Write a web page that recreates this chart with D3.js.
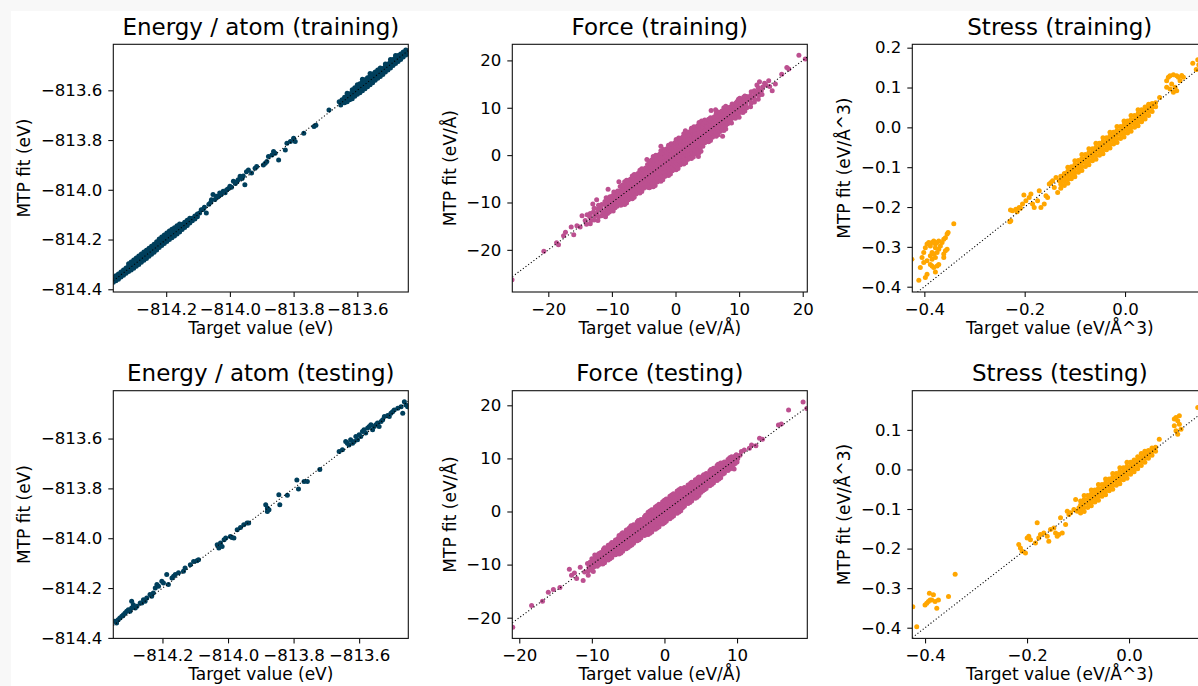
<!DOCTYPE html>
<html>
<head>
<meta charset="utf-8">
<script src="https://cdn.jsdelivr.net/npm/d3@7"></script>
<style>
  html, body { margin: 0; padding: 0; background: #f8f8f8; }
  svg { display: block; }
  text { font-family: "DejaVu Sans", sans-serif; }
</style>
</head>
<body>
<svg id="chart" width="1198" height="686"></svg>
<script>
// ---------------- DATA: [target value, MTP fit] ----------------
const energyTrain = [
  [-814.366,-814.372],[-814.366,-814.362],[-814.366,-814.352],
  [-814.358,-814.366],[-814.358,-814.356],[-814.358,-814.346],
  [-814.350,-814.360],[-814.350,-814.349],[-814.350,-814.339],
  [-814.342,-814.351],[-814.342,-814.341],[-814.342,-814.331],
  [-814.334,-814.344],[-814.334,-814.333],[-814.334,-814.323],
  [-814.326,-814.336],[-814.326,-814.325],[-814.326,-814.314],
  [-814.318,-814.329],[-814.318,-814.318],[-814.318,-814.307],[-814.318,-814.297],
  [-814.310,-814.323],[-814.310,-814.312],[-814.310,-814.300],[-814.310,-814.290],
  [-814.302,-814.315],[-814.302,-814.304],[-814.302,-814.292],[-814.302,-814.282],
  [-814.294,-814.307],[-814.294,-814.296],[-814.294,-814.285],[-814.294,-814.274],
  [-814.286,-814.300],[-814.286,-814.289],[-814.286,-814.277],[-814.286,-814.266],
  [-814.278,-814.291],[-814.278,-814.281],[-814.278,-814.269],[-814.278,-814.258],
  [-814.270,-814.283],[-814.270,-814.273],[-814.270,-814.262],[-814.270,-814.250],
  [-814.262,-814.276],[-814.262,-814.265],[-814.262,-814.254],[-814.262,-814.243],
  [-814.254,-814.267],[-814.254,-814.257],[-814.254,-814.246],[-814.254,-814.235],
  [-814.246,-814.259],[-814.246,-814.249],[-814.246,-814.238],[-814.246,-814.227],
  [-814.238,-814.251],[-814.238,-814.241],[-814.238,-814.230],[-814.238,-814.219],
  [-814.230,-814.242],[-814.230,-814.232],[-814.230,-814.221],[-814.230,-814.209],
  [-814.222,-814.232],[-814.222,-814.221],[-814.222,-814.210],[-814.222,-814.198],
  [-814.214,-814.224],[-814.214,-814.212],[-814.214,-814.201],[-814.214,-814.190],
  [-814.206,-814.216],[-814.206,-814.204],[-814.206,-814.193],[-814.206,-814.182],
  [-814.198,-814.208],[-814.198,-814.196],[-814.198,-814.185],[-814.198,-814.174],
  [-814.190,-814.200],[-814.190,-814.188],[-814.190,-814.177],[-814.190,-814.166],
  [-814.182,-814.193],[-814.182,-814.182],[-814.182,-814.170],[-814.182,-814.159],
  [-814.174,-814.186],[-814.174,-814.175],[-814.174,-814.164],[-814.174,-814.153],
  [-814.166,-814.178],[-814.166,-814.167],[-814.166,-814.156],[-814.166,-814.145],
  [-814.158,-814.170],[-814.158,-814.159],[-814.158,-814.148],[-814.158,-814.138],
  [-814.150,-814.160],[-814.150,-814.150],[-814.150,-814.139],
  [-814.142,-814.152],[-814.142,-814.142],[-814.142,-814.131],
  [-814.134,-814.144],[-814.134,-814.133],[-814.134,-814.122],
  [-814.126,-814.134],[-814.126,-814.124],[-814.126,-814.114],
  [-814.118,-814.125],[-814.118,-814.114],[-814.110,-814.117],[-814.110,-814.105],
  [-814.102,-814.108],[-814.102,-814.097],
  [-814.095,-814.093],[-814.090,-814.080],[-814.084,-814.079],[-814.080,-814.070],[-814.074,-814.093],
  [-814.066,-814.058],[-814.060,-814.050],[-814.058,-814.040],[-814.053,-814.019],[-814.047,-814.039],
  [-814.042,-814.026],[-814.037,-814.028],[-814.032,-814.013],[-814.028,-814.020],[-814.021,-814.006],
  [-814.015,-814.012],[-814.010,-814.000],[-814.005,-813.996],[-814.000,-813.986],[-813.995,-813.990],
  [-813.989,-813.966],[-813.983,-813.975],[-813.978,-813.968],[-813.974,-813.960],[-813.968,-813.946],
  [-813.962,-813.955],[-813.958,-813.945],[-813.953,-813.980],[-813.948,-813.927],[-813.942,-813.920],
  [-813.932,-813.933],[-813.921,-813.913],[-813.916,-813.906],[-813.895,-813.900],[-813.889,-813.893],
  [-813.884,-813.886],[-813.879,-813.866],[-813.868,-813.860],[-813.863,-813.846],[-813.858,-813.853],
  [-813.847,-813.880],[-813.826,-813.840],[-813.821,-813.813],[-813.810,-813.806],[-813.795,-813.806],
  [-813.800,-813.793],[-813.768,-813.773],[-813.736,-813.746],[-813.730,-813.740],[-813.689,-813.679],
  [-813.657,-813.646],[-813.652,-813.659],
  [-813.648,-813.650],[-813.648,-813.638],
  [-813.640,-813.650],[-813.640,-813.638],[-813.640,-813.628],
  [-813.632,-813.646],[-813.632,-813.634],[-813.632,-813.622],[-813.632,-813.612],
  [-813.624,-813.638],[-813.624,-813.626],[-813.624,-813.614],
  [-813.616,-813.634],[-813.616,-813.622],[-813.616,-813.610],[-813.616,-813.598],
  [-813.608,-813.624],[-813.608,-813.612],[-813.608,-813.600],[-813.608,-813.590],
  [-813.600,-813.616],[-813.600,-813.604],[-813.600,-813.592],[-813.600,-813.578],
  [-813.592,-813.610],[-813.592,-813.598],[-813.592,-813.586],[-813.592,-813.574],
  [-813.584,-813.602],[-813.584,-813.590],[-813.584,-813.578],[-813.584,-813.566],[-813.584,-813.556],
  [-813.576,-813.594],[-813.576,-813.582],[-813.576,-813.570],[-813.576,-813.558],
  [-813.568,-813.586],[-813.568,-813.574],[-813.568,-813.562],[-813.568,-813.550],
  [-813.560,-813.578],[-813.560,-813.566],[-813.560,-813.554],[-813.560,-813.542],[-813.560,-813.532],
  [-813.552,-813.570],[-813.552,-813.558],[-813.552,-813.546],[-813.552,-813.534],
  [-813.544,-813.560],[-813.544,-813.548],[-813.544,-813.536],[-813.544,-813.526],
  [-813.536,-813.552],[-813.536,-813.540],[-813.536,-813.528],[-813.536,-813.518],
  [-813.528,-813.544],[-813.528,-813.532],[-813.528,-813.520],[-813.528,-813.510],
  [-813.520,-813.536],[-813.520,-813.524],[-813.520,-813.512],
  [-813.512,-813.526],[-813.512,-813.514],[-813.512,-813.502],[-813.512,-813.494],
  [-813.504,-813.518],[-813.504,-813.506],[-813.504,-813.494],
  [-813.496,-813.510],[-813.496,-813.498],[-813.496,-813.486],[-813.496,-813.476],
  [-813.488,-813.500],[-813.488,-813.488],[-813.488,-813.476],
  [-813.480,-813.492],[-813.480,-813.480],[-813.480,-813.468],[-813.480,-813.460],
  [-813.472,-813.484],[-813.472,-813.472],[-813.472,-813.460],
  [-813.464,-813.476],[-813.464,-813.465],[-813.464,-813.454],
  [-813.456,-813.466],[-813.456,-813.455],[-813.456,-813.446],
  [-813.448,-813.458],[-813.448,-813.448],[-813.448,-813.438],
  [-813.440,-813.452],[-813.440,-813.441]
];

const energyTest = [
  [-814.345,-814.333],[-814.340,-814.340],[-814.335,-814.327],[-814.330,-814.320],[-814.324,-814.313],
  [-814.319,-814.307],[-814.314,-814.300],[-814.309,-814.293],[-814.304,-814.287],[-814.299,-814.293],
  [-814.294,-814.280],[-814.294,-814.253],[-814.289,-814.267],[-814.283,-814.280],[-814.278,-814.273],
  [-814.268,-814.260],[-814.263,-814.260],[-814.258,-814.247],[-814.253,-814.253],[-814.248,-814.240],
  [-814.238,-814.226],[-814.233,-814.233],[-814.228,-814.220],[-814.222,-814.200],[-814.217,-814.186],
  [-814.212,-814.193],[-814.202,-814.173],[-814.197,-814.180],[-814.187,-814.146],[-814.182,-814.186],
  [-814.171,-814.160],[-814.166,-814.153],[-814.161,-814.146],[-814.151,-814.139],[-814.136,-814.133],
  [-814.131,-814.119],[-814.115,-814.106],[-814.105,-814.093],[-814.095,-814.090],[-814.090,-814.086],
  [-814.033,-814.026],[-814.028,-814.039],[-814.023,-814.019],[-814.018,-814.033],[-814.012,-814.006],
  [-814.007,-813.999],[-813.993,-813.993],[-813.988,-813.997],[-813.982,-813.999],[-813.972,-813.966],
  [-813.962,-813.957],[-813.952,-813.946],[-813.942,-813.939],[-813.937,-813.939],[-813.885,-813.866],
  [-813.880,-813.879],[-813.880,-813.893],[-813.875,-813.886],[-813.845,-813.826],[-813.842,-813.866],
  [-813.819,-813.828],[-813.790,-813.766],[-813.785,-813.802],[-813.768,-813.772],[-813.758,-813.772],
  [-813.720,-813.724],[-813.661,-813.652],[-813.651,-813.645],[-813.641,-813.612],[-813.636,-813.619],
  [-813.631,-813.626],[-813.626,-813.605],[-813.620,-813.619],[-813.615,-813.612],[-813.610,-813.592],
  [-813.605,-813.605],[-813.600,-813.585],[-813.595,-813.592],[-813.590,-813.572],[-813.585,-813.565],
  [-813.580,-813.578],[-813.574,-813.558],[-813.569,-813.552],[-813.564,-813.545],[-813.559,-813.565],
  [-813.554,-813.552],[-813.549,-813.545],[-813.544,-813.538],[-813.539,-813.552],[-813.533,-813.532],
  [-813.528,-813.525],[-813.523,-813.512],[-813.513,-813.508],[-813.508,-813.512],[-813.503,-813.498],
  [-813.498,-813.492],[-813.493,-813.485],[-813.482,-813.478],[-813.472,-813.472],[-813.467,-813.498],
  [-813.462,-813.452],[-813.457,-813.465],[-813.452,-813.472]
];

const forceTrain = [
  [-25.7,-26.3],[-20.7,-20.3],[-18.7,-18.5],[-18.4,-18.9],[-17.6,-17.0],[-17.3,-16.3],[-16.4,-15.2],
  [-16.0,-16.8],[-15.5,-14.9],[-15.0,-15.2],[-14.7,-12.8],[-14.2,-13.8],[-14.0,-14.6],[-13.9,-12.6],
  [-13.0,-10.3],[-12.4,-9.4],[-10.6,-7.2],[-8.9,-5.6],[-6.7,-8.9],[-4.5,-0.9],[-2.3,1.9],[1.55,5.15],
  [3.6,-0.3],[5.6,9.4],[6.3,9.6],[7.4,4.0],[9.9,11.8],[12.8,14.8],[13.2,15.5],[14.0,15.2],[14.2,14.8],
  [14.8,14.5],[14.65,15.7],[15.2,13.6],[15.7,15.0],[16.7,17.1],[17.5,18.5],[17.8,18.2],[19.4,21.1],[20.4,20.3],
  [-13.4,-14.5],[-13.3,-13.8],[-13.5,-13.0],[-13.4,-12.3],
  [-12.8,-13.7],[-12.7,-12.8],[-12.9,-12.0],[-12.8,-11.2],
  [-12.2,-13.8],[-12.1,-13.0],[-12.3,-12.2],[-12.2,-11.4],[-12.1,-10.6],
  [-11.6,-12.8],[-11.5,-12.0],[-11.7,-11.2],[-11.6,-10.4],
  [-11.0,-13.0],[-11.1,-12.2],[-10.9,-11.4],[-11.0,-10.6],[-11.1,-9.8],[-10.9,-9.0],
  [-10.7,-12.3],[-10.7,-11.5],[-10.7,-10.7],[-10.7,-9.9],[-10.7,-9.1],
  [-10.4,-12.0],[-10.3,-11.2],[-10.5,-10.4],[-10.4,-9.6],[-10.3,-8.8],
  [-10.1,-11.3],[-10.1,-10.5],[-10.1,-9.7],[-10.1,-8.9],
  [-9.8,-11.8],[-9.9,-11.0],[-9.7,-10.2],[-9.8,-9.4],[-9.9,-8.6],[-9.7,-7.8],
  [-9.5,-11.1],[-9.5,-10.3],[-9.5,-9.5],[-9.5,-8.7],[-9.5,-7.9],
  [-9.2,-10.8],[-9.1,-10.0],[-9.3,-9.2],[-9.2,-8.4],[-9.1,-7.6],
  [-8.9,-10.1],[-8.9,-9.3],[-8.9,-8.5],[-8.9,-7.7],
  [-8.6,-10.6],[-8.5,-9.8],[-8.7,-9.0],[-8.6,-8.2],[-8.5,-7.4],[-8.7,-6.6],
  [-8.3,-10.3],[-8.3,-9.5],[-8.3,-8.7],[-8.3,-7.9],[-8.3,-7.1],[-8.3,-6.3],
  [-8.0,-10.4],[-8.1,-9.6],[-7.9,-8.8],[-8.0,-8.0],[-8.1,-7.2],[-7.9,-6.4],[-8.0,-5.6],
  [-7.7,-10.1],[-7.7,-9.3],[-7.7,-8.5],[-7.7,-7.7],[-7.7,-6.9],[-7.7,-6.1],[-7.7,-5.3],
  [-7.4,-9.4],[-7.3,-8.6],[-7.5,-7.8],[-7.4,-7.0],[-7.3,-6.2],[-7.5,-5.4],
  [-7.1,-9.1],[-7.1,-8.3],[-7.1,-7.5],[-7.1,-6.7],[-7.1,-5.9],[-7.1,-5.1],
  [-6.8,-9.2],[-6.9,-8.4],[-6.7,-7.6],[-6.8,-6.8],[-6.9,-6.0],[-6.7,-5.2],[-6.8,-4.4],
  [-6.5,-8.9],[-6.5,-8.1],[-6.5,-7.3],[-6.5,-6.5],[-6.5,-5.7],[-6.5,-4.9],[-6.5,-4.1],
  [-6.2,-8.2],[-6.1,-7.4],[-6.3,-6.6],[-6.2,-5.8],[-6.1,-5.0],[-6.3,-4.2],
  [-5.9,-7.9],[-5.9,-7.1],[-5.9,-6.3],[-5.9,-5.5],[-5.9,-4.7],[-5.9,-3.9],
  [-5.6,-8.0],[-5.7,-7.2],[-5.5,-6.4],[-5.6,-5.6],[-5.7,-4.8],[-5.5,-4.0],[-5.6,-3.2],
  [-5.3,-7.7],[-5.3,-6.9],[-5.3,-6.1],[-5.3,-5.3],[-5.3,-4.5],[-5.3,-3.7],[-5.3,-2.9],
  [-5.0,-7.0],[-4.9,-6.2],[-5.1,-5.4],[-5.0,-4.6],[-4.9,-3.8],[-5.1,-3.0],
  [-4.7,-6.7],[-4.7,-5.9],[-4.7,-5.1],[-4.7,-4.3],[-4.7,-3.5],[-4.7,-2.7],
  [-4.4,-6.8],[-4.5,-6.0],[-4.3,-5.2],[-4.4,-4.4],[-4.5,-3.6],[-4.3,-2.8],[-4.4,-2.0],
  [-4.1,-6.9],[-4.1,-6.1],[-4.1,-5.3],[-4.1,-4.5],[-4.1,-3.7],[-4.1,-2.9],[-4.1,-2.1],[-4.1,-1.3],
  [-3.8,-6.6],[-3.7,-5.8],[-3.9,-5.0],[-3.8,-4.2],[-3.7,-3.4],[-3.9,-2.6],[-3.8,-1.8],[-3.7,-1.0],
  [-3.5,-6.7],[-3.5,-5.9],[-3.5,-5.1],[-3.5,-4.3],[-3.5,-3.5],[-3.5,-2.7],[-3.5,-1.9],[-3.5,-1.1],[-3.5,-0.3],
  [-3.2,-6.4],[-3.3,-5.6],[-3.1,-4.8],[-3.2,-4.0],[-3.3,-3.2],[-3.1,-2.4],[-3.2,-1.6],[-3.3,-0.8],[-3.1,0.0],
  [-2.9,-5.7],[-2.9,-4.9],[-2.9,-4.1],[-2.9,-3.3],[-2.9,-2.5],[-2.9,-1.7],[-2.9,-0.9],[-2.9,-0.1],
  [-2.6,-5.4],[-2.5,-4.6],[-2.7,-3.8],[-2.6,-3.0],[-2.5,-2.2],[-2.7,-1.4],[-2.6,-0.6],[-2.5,0.2],
  [-2.3,-5.5],[-2.3,-4.7],[-2.3,-3.9],[-2.3,-3.1],[-2.3,-2.3],[-2.3,-1.5],[-2.3,-0.7],[-2.3,0.1],[-2.3,0.9],
  [-2.0,-5.2],[-2.1,-4.4],[-1.9,-3.6],[-2.0,-2.8],[-2.1,-2.0],[-1.9,-1.2],[-2.0,-0.4],[-2.1,0.4],[-1.9,1.2],
  [-1.7,-4.5],[-1.7,-3.7],[-1.7,-2.9],[-1.7,-2.1],[-1.7,-1.3],[-1.7,-0.5],[-1.7,0.3],[-1.7,1.1],
  [-1.4,-4.2],[-1.3,-3.4],[-1.5,-2.6],[-1.4,-1.8],[-1.3,-1.0],[-1.5,-0.2],[-1.4,0.6],[-1.3,1.4],
  [-1.1,-4.3],[-1.1,-3.5],[-1.1,-2.7],[-1.1,-1.9],[-1.1,-1.1],[-1.1,-0.3],[-1.1,0.5],[-1.1,1.3],[-1.1,2.1],
  [-0.8,-4.0],[-0.9,-3.2],[-0.7,-2.4],[-0.8,-1.6],[-0.9,-0.8],[-0.7,0.0],[-0.8,0.8],[-0.9,1.6],[-0.7,2.4],
  [-0.5,-3.3],[-0.5,-2.5],[-0.5,-1.7],[-0.5,-0.9],[-0.5,-0.1],[-0.5,0.7],[-0.5,1.5],[-0.5,2.3],
  [-0.2,-3.0],[-0.1,-2.2],[-0.3,-1.4],[-0.2,-0.6],[-0.1,0.2],[-0.3,1.0],[-0.2,1.8],[-0.1,2.6],
  [0.1,-3.1],[0.1,-2.3],[0.1,-1.5],[0.1,-0.7],[0.1,0.1],[0.1,0.9],[0.1,1.7],[0.1,2.5],[0.1,3.3],
  [0.4,-2.8],[0.3,-2.0],[0.5,-1.2],[0.4,-0.4],[0.3,0.4],[0.5,1.2],[0.4,2.0],[0.3,2.8],[0.5,3.6],
  [0.7,-2.1],[0.7,-1.3],[0.7,-0.5],[0.7,0.3],[0.7,1.1],[0.7,1.9],[0.7,2.7],[0.7,3.5],
  [1.0,-1.8],[1.1,-1.0],[0.9,-0.2],[1.0,0.6],[1.1,1.4],[0.9,2.2],[1.0,3.0],[1.1,3.8],
  [1.3,-1.9],[1.3,-1.1],[1.3,-0.3],[1.3,0.5],[1.3,1.3],[1.3,2.1],[1.3,2.9],[1.3,3.7],[1.3,4.5],
  [1.6,-1.6],[1.5,-0.8],[1.7,0.0],[1.6,0.8],[1.5,1.6],[1.7,2.4],[1.6,3.2],[1.5,4.0],[1.7,4.8],
  [1.9,-0.9],[1.9,-0.1],[1.9,0.7],[1.9,1.5],[1.9,2.3],[1.9,3.1],[1.9,3.9],[1.9,4.7],
  [2.2,-0.6],[2.3,0.2],[2.1,1.0],[2.2,1.8],[2.3,2.6],[2.1,3.4],[2.2,4.2],[2.3,5.0],
  [2.5,-0.7],[2.5,0.1],[2.5,0.9],[2.5,1.7],[2.5,2.5],[2.5,3.3],[2.5,4.1],[2.5,4.9],[2.5,5.7],
  [2.8,-0.4],[2.7,0.4],[2.9,1.2],[2.8,2.0],[2.7,2.8],[2.9,3.6],[2.8,4.4],[2.7,5.2],[2.9,6.0],
  [3.1,0.3],[3.1,1.1],[3.1,1.9],[3.1,2.7],[3.1,3.5],[3.1,4.3],[3.1,5.1],[3.1,5.9],
  [3.4,0.6],[3.5,1.4],[3.3,2.2],[3.4,3.0],[3.5,3.8],[3.3,4.6],[3.4,5.4],[3.5,6.2],
  [3.7,0.5],[3.7,1.3],[3.7,2.1],[3.7,2.9],[3.7,3.7],[3.7,4.5],[3.7,5.3],[3.7,6.1],[3.7,6.9],
  [4.0,0.8],[3.9,1.6],[4.1,2.4],[4.0,3.2],[3.9,4.0],[4.1,4.8],[4.0,5.6],[3.9,6.4],[4.1,7.2],
  [4.3,1.9],[4.3,2.7],[4.3,3.5],[4.3,4.3],[4.3,5.1],[4.3,5.9],[4.3,6.7],
  [4.6,2.6],[4.7,3.4],[4.5,4.2],[4.6,5.0],[4.7,5.8],[4.5,6.6],[4.6,7.4],
  [4.9,2.9],[4.9,3.7],[4.9,4.5],[4.9,5.3],[4.9,6.1],[4.9,6.9],
  [5.2,2.8],[5.1,3.6],[5.3,4.4],[5.2,5.2],[5.1,6.0],[5.3,6.8],[5.2,7.6],
  [5.5,3.1],[5.5,3.9],[5.5,4.7],[5.5,5.5],[5.5,6.3],[5.5,7.1],[5.5,7.9],
  [5.8,3.8],[5.9,4.6],[5.7,5.4],[5.8,6.2],[5.9,7.0],[5.7,7.8],
  [6.1,4.1],[6.1,4.9],[6.1,5.7],[6.1,6.5],[6.1,7.3],[6.1,8.1],
  [6.4,4.0],[6.3,4.8],[6.5,5.6],[6.4,6.4],[6.3,7.2],[6.5,8.0],[6.4,8.8],
  [6.7,4.3],[6.7,5.1],[6.7,5.9],[6.7,6.7],[6.7,7.5],[6.7,8.3],[6.7,9.1],
  [7.0,5.0],[7.1,5.8],[6.9,6.6],[7.0,7.4],[7.1,8.2],[6.9,9.0],
  [7.3,5.3],[7.3,6.1],[7.3,6.9],[7.3,7.7],[7.3,8.5],[7.3,9.3],
  [7.6,5.2],[7.5,6.0],[7.7,6.8],[7.6,7.6],[7.5,8.4],[7.7,9.2],[7.6,10.0],
  [7.9,5.5],[7.9,6.3],[7.9,7.1],[7.9,7.9],[7.9,8.7],[7.9,9.5],[7.9,10.3],
  [8.2,6.6],[8.3,7.4],[8.1,8.2],[8.3,9.0],[8.2,9.8],
  [8.5,6.9],[8.5,7.7],[8.5,8.5],[8.5,9.3],[8.5,10.1],
  [8.8,6.8],[8.7,7.6],[8.9,8.4],[8.8,9.2],[8.7,10.0],[8.9,10.8],
  [9.1,7.9],[9.1,8.7],[9.1,9.5],[9.1,10.3],
  [9.4,7.8],[9.5,8.6],[9.3,9.4],[9.4,10.2],[9.5,11.0],
  [9.7,8.1],[9.7,8.9],[9.7,9.7],[9.7,10.5],[9.7,11.3],
  [10.0,8.0],[9.9,8.8],[10.1,9.6],[10.0,10.4],[9.9,11.2],[10.1,12.0],
  [10.3,9.1],[10.3,9.9],[10.3,10.7],[10.3,11.5],
  [10.6,9.0],[10.7,9.8],[10.5,10.6],[10.6,11.4],[10.7,12.2],
  [10.9,9.3],[10.9,10.1],[10.9,10.9],[10.9,11.7],[10.9,12.5],
  [11.2,10.0],[11.1,10.8],[11.3,11.6],[11.2,12.4],
  [11.8,10.2],[11.9,11.0],[11.7,11.8],[11.8,12.6],[11.9,13.4],
  [12.4,11.2],[12.3,12.0],[12.5,12.8],[12.4,13.6],
  [13.0,11.8],[13.1,12.6],[12.9,13.4],[13.0,14.2],
  [13.6,12.8],[13.5,13.6],[13.7,14.4]
];

const forceTest = [
  [-20.9,-21.8],[-18.3,-17.7],[-16.8,-16.9],[-16.0,-15.2],[-15.3,-14.7],[-14.4,-14.3],[-13.1,-10.9],
  [-12.8,-12.0],[-12.4,-11.6],[-12.1,-12.6],[-11.6,-10.5],[-11.2,-13.0],[-11.0,-11.4],[-10.5,-12.0],
  [-9.8,-11.3],[-9.6,-8.2],[9.6,8.0],[10.4,10.6],[10.6,11.3],[11.0,11.6],[11.7,11.9],[12.0,12.5],
  [12.6,12.4],[13.1,13.8],[13.5,13.6],[15.7,16.3],[16.1,16.5],[17.1,19.1],[19.1,20.6],[19.6,19.4],
  [-10.5,-11.2],[-10.4,-10.5],[-10.6,-9.8],
  [-10.25,-10.95],[-10.25,-10.25],[-10.25,-9.55],
  [-10.0,-11.0],[-10.1,-10.3],[-9.9,-9.6],[-10.0,-8.9],
  [-9.75,-10.45],[-9.75,-9.75],[-9.75,-9.05],
  [-9.5,-10.2],[-9.4,-9.5],[-9.6,-8.8],
  [-9.25,-10.3],[-9.25,-9.6],[-9.25,-8.9],[-9.25,-8.2],
  [-9.0,-10.0],[-9.1,-9.3],[-8.9,-8.6],[-9.0,-7.9],
  [-8.75,-9.8],[-8.75,-9.1],[-8.75,-8.4],[-8.75,-7.7],
  [-8.5,-9.9],[-8.4,-9.2],[-8.6,-8.5],[-8.5,-7.8],[-8.4,-7.1],
  [-8.25,-9.65],[-8.25,-8.95],[-8.25,-8.25],[-8.25,-7.55],[-8.25,-6.85],
  [-8.0,-9.0],[-8.1,-8.3],[-7.9,-7.6],[-8.0,-6.9],
  [-7.75,-9.15],[-7.75,-8.45],[-7.75,-7.75],[-7.75,-7.05],[-7.75,-6.35],
  [-7.5,-8.9],[-7.4,-8.2],[-7.6,-7.5],[-7.5,-6.8],[-7.4,-6.1],
  [-7.25,-8.65],[-7.25,-7.95],[-7.25,-7.25],[-7.25,-6.55],[-7.25,-5.85],
  [-7.0,-8.0],[-7.1,-7.3],[-6.9,-6.6],[-7.0,-5.9],
  [-6.75,-8.15],[-6.75,-7.45],[-6.75,-6.75],[-6.75,-6.05],[-6.75,-5.35],
  [-6.5,-7.9],[-6.4,-7.2],[-6.6,-6.5],[-6.5,-5.8],[-6.4,-5.1],
  [-6.25,-8.0],[-6.25,-7.3],[-6.25,-6.6],[-6.25,-5.9],[-6.25,-5.2],[-6.25,-4.5],
  [-6.0,-7.8],[-6.1,-7.1],[-5.9,-6.4],[-6.0,-5.6],[-6.1,-4.9],[-5.9,-4.2],
  [-5.75,-7.5],[-5.75,-6.8],[-5.75,-6.1],[-5.75,-5.4],[-5.75,-4.7],[-5.75,-4.0],
  [-5.5,-6.9],[-5.4,-6.2],[-5.6,-5.5],[-5.5,-4.8],[-5.4,-4.1],
  [-5.25,-7.0],[-5.25,-6.3],[-5.25,-5.6],[-5.25,-4.9],[-5.25,-4.2],[-5.25,-3.5],
  [-5.0,-6.8],[-5.1,-6.1],[-4.9,-5.4],[-5.0,-4.6],[-5.1,-3.9],[-4.9,-3.2],
  [-4.75,-6.5],[-4.75,-5.8],[-4.75,-5.1],[-4.75,-4.4],[-4.75,-3.7],[-4.75,-3.0],
  [-4.5,-6.3],[-4.4,-5.6],[-4.6,-4.9],[-4.5,-4.1],[-4.4,-3.4],[-4.6,-2.7],
  [-4.25,-6.0],[-4.25,-5.3],[-4.25,-4.6],[-4.25,-3.9],[-4.25,-3.2],[-4.25,-2.5],
  [-4.0,-5.4],[-4.1,-4.7],[-3.9,-4.0],[-4.0,-3.3],[-4.1,-2.6],
  [-3.75,-5.5],[-3.75,-4.8],[-3.75,-4.1],[-3.75,-3.4],[-3.75,-2.7],[-3.75,-2.0],
  [-3.5,-5.3],[-3.4,-4.6],[-3.6,-3.9],[-3.5,-3.1],[-3.4,-2.4],[-3.6,-1.7],
  [-3.25,-5.0],[-3.25,-4.3],[-3.25,-3.6],[-3.25,-2.9],[-3.25,-2.2],[-3.25,-1.5],
  [-3.0,-4.4],[-3.1,-3.7],[-2.9,-3.0],[-3.0,-2.3],[-3.1,-1.6],
  [-2.75,-4.5],[-2.75,-3.8],[-2.75,-3.1],[-2.75,-2.4],[-2.75,-1.7],[-2.75,-1.0],
  [-2.5,-4.3],[-2.4,-3.6],[-2.6,-2.9],[-2.5,-2.1],[-2.4,-1.4],[-2.6,-0.7],
  [-2.25,-4.35],[-2.25,-3.65],[-2.25,-2.95],[-2.25,-2.25],[-2.25,-1.55],[-2.25,-0.85],[-2.25,-0.15],
  [-2.0,-4.1],[-2.1,-3.4],[-1.9,-2.7],[-2.0,-2.0],[-2.1,-1.3],[-1.9,-0.6],[-2.0,0.1],
  [-1.75,-3.85],[-1.75,-3.15],[-1.75,-2.45],[-1.75,-1.75],[-1.75,-1.05],[-1.75,-0.35],[-1.75,0.35],
  [-1.5,-3.3],[-1.4,-2.6],[-1.6,-1.9],[-1.5,-1.1],[-1.4,-0.4],[-1.6,0.3],
  [-1.25,-3.35],[-1.25,-2.65],[-1.25,-1.95],[-1.25,-1.25],[-1.25,-0.55],[-1.25,0.15],[-1.25,0.85],
  [-1.0,-3.1],[-1.1,-2.4],[-0.9,-1.7],[-1.0,-1.0],[-1.1,-0.3],[-0.9,0.4],[-1.0,1.1],
  [-0.75,-2.85],[-0.75,-2.15],[-0.75,-1.45],[-0.75,-0.75],[-0.75,-0.05],[-0.75,0.65],[-0.75,1.35],
  [-0.5,-2.3],[-0.4,-1.6],[-0.6,-0.9],[-0.5,-0.1],[-0.4,0.6],[-0.6,1.3],
  [-0.25,-2.35],[-0.25,-1.65],[-0.25,-0.95],[-0.25,-0.25],[-0.25,0.45],[-0.25,1.15],[-0.25,1.85],
  [0.0,-2.1],[0.1,-1.4],[-0.1,-0.7],[0.0,0.0],[0.1,0.7],[-0.1,1.4],[0.0,2.1],
  [0.25,-1.85],[0.25,-1.15],[0.25,-0.45],[0.25,0.25],[0.25,0.95],[0.25,1.65],[0.25,2.35],
  [0.5,-1.3],[0.4,-0.6],[0.6,0.1],[0.5,0.9],[0.4,1.6],[0.6,2.3],
  [0.75,-1.35],[0.75,-0.65],[0.75,0.05],[0.75,0.75],[0.75,1.45],[0.75,2.15],[0.75,2.85],
  [1.0,-1.1],[1.1,-0.4],[0.9,0.3],[1.0,1.0],[1.1,1.7],[0.9,2.4],[1.0,3.1],
  [1.25,-0.85],[1.25,-0.15],[1.25,0.55],[1.25,1.25],[1.25,1.95],[1.25,2.65],[1.25,3.35],
  [1.5,-0.3],[1.4,0.4],[1.6,1.1],[1.5,1.9],[1.4,2.6],[1.6,3.3],
  [1.75,-0.35],[1.75,0.35],[1.75,1.05],[1.75,1.75],[1.75,2.45],[1.75,3.15],[1.75,3.85],
  [2.0,-0.1],[2.1,0.6],[1.9,1.3],[2.0,2.0],[2.1,2.7],[1.9,3.4],[2.0,4.1],
  [2.25,0.15],[2.25,0.85],[2.25,1.55],[2.25,2.25],[2.25,2.95],[2.25,3.65],[2.25,4.35],
  [2.5,0.7],[2.4,1.4],[2.6,2.1],[2.5,2.9],[2.4,3.6],[2.6,4.3],
  [2.75,1.0],[2.75,1.7],[2.75,2.4],[2.75,3.1],[2.75,3.8],[2.75,4.5],
  [3.0,1.6],[3.1,2.3],[2.9,3.0],[3.0,3.7],[3.1,4.4],
  [3.25,1.5],[3.25,2.2],[3.25,2.9],[3.25,3.6],[3.25,4.3],[3.25,5.0],
  [3.5,1.7],[3.4,2.4],[3.6,3.1],[3.5,3.9],[3.4,4.6],[3.6,5.3],
  [3.75,2.0],[3.75,2.7],[3.75,3.4],[3.75,4.1],[3.75,4.8],[3.75,5.5],
  [4.0,2.6],[4.1,3.3],[3.9,4.0],[4.0,4.7],[4.1,5.4],
  [4.25,2.5],[4.25,3.2],[4.25,3.9],[4.25,4.6],[4.25,5.3],[4.25,6.0],
  [4.5,2.7],[4.4,3.4],[4.6,4.1],[4.5,4.9],[4.4,5.6],[4.6,6.3],
  [4.75,3.0],[4.75,3.7],[4.75,4.4],[4.75,5.1],[4.75,5.8],[4.75,6.5],
  [5.0,3.6],[5.1,4.3],[4.9,5.0],[5.0,5.7],[5.1,6.4],
  [5.25,3.85],[5.25,4.55],[5.25,5.25],[5.25,5.95],[5.25,6.65],
  [5.5,4.1],[5.4,4.8],[5.6,5.5],[5.5,6.2],[5.4,6.9],
  [5.75,4.35],[5.75,5.05],[5.75,5.75],[5.75,6.45],[5.75,7.15],
  [6.0,4.9],[6.1,5.6],[5.9,6.3],[6.0,7.0],
  [6.25,4.85],[6.25,5.55],[6.25,6.25],[6.25,6.95],[6.25,7.65],
  [6.5,5.1],[6.4,5.8],[6.6,6.5],[6.5,7.2],[6.4,7.9],
  [6.75,5.35],[6.75,6.05],[6.75,6.75],[6.75,7.45],[6.75,8.15],
  [7.0,5.9],[7.1,6.6],[6.9,7.3],[7.0,8.0],
  [7.25,5.85],[7.25,6.55],[7.25,7.25],[7.25,7.95],[7.25,8.65],
  [7.5,6.1],[7.4,6.8],[7.6,7.5],[7.5,8.2],[7.4,8.9],
  [7.75,6.35],[7.75,7.05],[7.75,7.75],[7.75,8.45],[7.75,9.15],
  [8.0,7.0],[8.1,7.7],[7.9,8.4],[8.0,9.1],
  [8.25,7.2],[8.25,7.9],[8.25,8.6],[8.25,9.3],
  [8.5,7.8],[8.4,8.5],[8.6,9.2],
  [8.75,7.7],[8.75,8.4],[8.75,9.1],[8.75,9.8],
  [9.0,8.0],[9.1,8.7],[8.9,9.4],[9.0,10.1],
  [9.25,8.2],[9.25,8.9],[9.25,9.6],[9.25,10.3],
  [9.5,8.8],[9.4,9.5],[9.6,10.2],
  [9.75,9.05],[9.75,9.75],[9.75,10.45],
  [10.0,9.3],[10.1,10.0],[9.9,10.7]
];

const stressTrain = [
  [-0.4246,-0.331],[-0.411,-0.384],[-0.408,-0.352],[-0.4046,-0.327],[-0.4012,-0.314],[-0.4012,-0.339],
  [-0.398,-0.302],[-0.398,-0.377],[-0.3946,-0.293],[-0.3946,-0.335],[-0.3946,-0.369],[-0.3913,-0.289],
  [-0.388,-0.298],[-0.388,-0.322],[-0.388,-0.344],[-0.3846,-0.289],[-0.3846,-0.314],[-0.3846,-0.331],
  [-0.3846,-0.348],[-0.3813,-0.285],[-0.3813,-0.318],[-0.3813,-0.352],[-0.378,-0.293],[-0.378,-0.302],
  [-0.378,-0.327],[-0.378,-0.363],[-0.3746,-0.289],[-0.3746,-0.314],[-0.3746,-0.348],[-0.3713,-0.285],
  [-0.3713,-0.306],[-0.3713,-0.344],[-0.368,-0.298],[-0.3646,-0.289],[-0.3613,-0.281],[-0.3613,-0.318],
  [-0.3613,-0.327],[-0.358,-0.277],[-0.358,-0.310],[-0.3546,-0.268],[-0.3546,-0.306],[-0.3526,-0.264],
  [-0.3413,-0.242],
  [-0.2297,-0.237],[-0.2277,-0.2347],[-0.2283,-0.2075],[-0.2243,-0.2095],[-0.2176,-0.2053],[-0.215,-0.212],
  [-0.211,-0.2011],[-0.2083,-0.2033],[-0.2043,-0.1927],[-0.2016,-0.170],[-0.1976,-0.1844],[-0.191,-0.176],
  [-0.1876,-0.1676],[-0.1843,-0.1927],[-0.181,-0.2011],[-0.1743,-0.1844],[-0.171,-0.1592],[-0.1676,-0.2011],
  [-0.161,-0.1927],[-0.1576,-0.1718],[-0.1543,-0.176],[-0.151,-0.1425],[-0.1476,-0.1383],[-0.1443,-0.1341],
  [-0.141,-0.1509],[-0.1376,-0.1257],[-0.1343,-0.1634],[-0.131,-0.1341],
  [-0.128,-0.153],[-0.128,-0.143],[-0.128,-0.133],[-0.128,-0.123],
  [-0.121,-0.146],[-0.121,-0.136],[-0.121,-0.126],[-0.121,-0.116],
  [-0.114,-0.140],[-0.114,-0.130],[-0.114,-0.120],[-0.114,-0.110],[-0.114,-0.100],
  [-0.107,-0.129],[-0.107,-0.119],[-0.107,-0.109],[-0.107,-0.099],
  [-0.100,-0.124],[-0.100,-0.114],[-0.100,-0.104],[-0.100,-0.094],[-0.100,-0.084],
  [-0.093,-0.113],[-0.093,-0.103],[-0.093,-0.093],[-0.093,-0.083],
  [-0.086,-0.108],[-0.086,-0.098],[-0.086,-0.088],[-0.086,-0.078],[-0.086,-0.068],
  [-0.079,-0.098],[-0.079,-0.088],[-0.079,-0.078],[-0.079,-0.068],
  [-0.072,-0.094],[-0.072,-0.084],[-0.072,-0.074],[-0.072,-0.064],[-0.072,-0.054],
  [-0.065,-0.084],[-0.065,-0.074],[-0.065,-0.064],[-0.065,-0.054],
  [-0.058,-0.080],[-0.058,-0.070],[-0.058,-0.060],[-0.058,-0.050],[-0.058,-0.040],
  [-0.051,-0.070],[-0.051,-0.060],[-0.051,-0.050],[-0.051,-0.040],
  [-0.044,-0.066],[-0.044,-0.056],[-0.044,-0.046],[-0.044,-0.036],[-0.044,-0.026],
  [-0.037,-0.056],[-0.037,-0.046],[-0.037,-0.036],[-0.037,-0.026],
  [-0.030,-0.052],[-0.030,-0.042],[-0.030,-0.032],[-0.030,-0.022],[-0.030,-0.012],
  [-0.023,-0.042],[-0.023,-0.032],[-0.023,-0.022],[-0.023,-0.012],
  [-0.016,-0.038],[-0.016,-0.028],[-0.016,-0.018],[-0.016,-0.008],[-0.016,0.002],
  [-0.009,-0.028],[-0.009,-0.018],[-0.009,-0.008],[-0.009,0.002],
  [-0.002,-0.024],[-0.002,-0.014],[-0.002,-0.004],[-0.002,0.006],[-0.002,0.016],
  [0.005,-0.014],[0.005,-0.004],[0.005,0.006],[0.005,0.016],
  [0.012,-0.010],[0.012,0.000],[0.012,0.010],[0.012,0.020],[0.012,0.030],
  [0.019,0.000],[0.019,0.010],[0.019,0.020],[0.019,0.030],
  [0.026,0.004],[0.026,0.014],[0.026,0.024],[0.026,0.034],[0.026,0.044],
  [0.033,0.014],[0.033,0.024],[0.033,0.034],[0.033,0.044],
  [0.040,0.021],[0.040,0.031],[0.040,0.041],[0.040,0.051],
  [0.047,0.030],[0.047,0.040],[0.047,0.050],[0.047,0.058],
  [0.054,0.040],[0.054,0.050],[0.054,0.060],
  [0.061,0.052],[0.061,0.062],
  [0.069,0.075],
  [0.0830,0.1172],[0.0864,0.1256],[0.0897,0.1297],[0.0964,0.1323],[0.1030,0.1297],[0.1064,0.1256],
  [0.0930,0.1088],[0.0997,0.1005],[0.0897,0.0963],[0.1030,0.0921],[0.1097,0.1172],[0.1164,0.1256],
  [0.0830,0.1005],[0.0964,0.0879],[0.113,0.130],
  [0.135,0.161],[0.142,0.145],[0.147,0.157],[0.145,0.170],[0.150,0.165],[0.155,0.172],[0.160,0.168],[0.152,0.150]
];

const stressTest = [
  [-0.424,-0.347],[-0.4163,-0.3975],[-0.400,-0.3424],[-0.3967,-0.3382],[-0.3934,-0.334],[-0.3902,-0.3297],
  [-0.3915,-0.3128],[-0.3869,-0.3297],[-0.3836,-0.317],[-0.3803,-0.334],[-0.377,-0.351],[-0.3738,-0.3297],
  [-0.354,-0.3213],[-0.341,-0.2646],
  [-0.2163,-0.190],[-0.213,-0.1985],[-0.2097,-0.207],[-0.2031,-0.2112],[-0.1998,-0.1731],[-0.1966,-0.169],
  [-0.1933,-0.1774],[-0.1835,-0.1858],[-0.1801,-0.135],[-0.177,-0.1731],[-0.1736,-0.1647],[-0.1671,-0.1604],
  [-0.1604,-0.169],[-0.1573,-0.1817],[-0.1539,-0.152],[-0.1474,-0.1477],[-0.1441,-0.1604],[-0.1408,-0.169],
  [-0.1376,-0.1647],[-0.1343,-0.1223],[-0.131,-0.1604],[-0.1244,-0.1393],[-0.1211,-0.1056],[-0.1179,-0.114],
  [-0.1146,-0.1097],[-0.1081,-0.1013],[-0.1047,-0.0759],[-0.1014,-0.1056],[-0.0982,-0.097],
  [-0.095,-0.110],[-0.095,-0.100],[-0.095,-0.090],[-0.095,-0.080],
  [-0.088,-0.106],[-0.088,-0.096],[-0.088,-0.086],[-0.088,-0.076],[-0.088,-0.066],
  [-0.081,-0.096],[-0.081,-0.086],[-0.081,-0.076],[-0.081,-0.066],
  [-0.074,-0.092],[-0.074,-0.082],[-0.074,-0.072],[-0.074,-0.062],[-0.074,-0.052],
  [-0.067,-0.082],[-0.067,-0.072],[-0.067,-0.062],[-0.067,-0.052],
  [-0.060,-0.078],[-0.060,-0.068],[-0.060,-0.058],[-0.060,-0.048],[-0.060,-0.038],
  [-0.053,-0.068],[-0.053,-0.058],[-0.053,-0.048],[-0.053,-0.038],
  [-0.046,-0.064],[-0.046,-0.054],[-0.046,-0.044],[-0.046,-0.034],[-0.046,-0.024],
  [-0.039,-0.054],[-0.039,-0.044],[-0.039,-0.034],[-0.039,-0.024],
  [-0.032,-0.050],[-0.032,-0.040],[-0.032,-0.030],[-0.032,-0.020],[-0.032,-0.010],
  [-0.025,-0.040],[-0.025,-0.030],[-0.025,-0.020],[-0.025,-0.010],
  [-0.018,-0.036],[-0.018,-0.026],[-0.018,-0.016],[-0.018,-0.006],[-0.018,0.004],
  [-0.011,-0.026],[-0.011,-0.016],[-0.011,-0.006],[-0.011,0.004],
  [-0.004,-0.022],[-0.004,-0.012],[-0.004,-0.002],[-0.004,0.008],[-0.004,0.018],
  [0.003,-0.012],[0.003,-0.002],[0.003,0.008],[0.003,0.018],
  [0.010,-0.006],[0.010,0.004],[0.010,0.014],[0.010,0.024],
  [0.017,0.002],[0.017,0.012],[0.017,0.022],[0.017,0.032],
  [0.024,0.010],[0.024,0.020],[0.024,0.030],[0.024,0.040],
  [0.031,0.018],[0.031,0.028],[0.031,0.038],[0.031,0.046],
  [0.038,0.028],[0.038,0.038],[0.038,0.048],
  [0.045,0.036],[0.045,0.046],[0.045,0.054],
  [0.052,0.046],[0.052,0.056],
  [0.0593,0.0764],[0.0888,0.1272],[0.0921,0.1315],[0.0955,0.1230],[0.0987,0.1145],[0.0888,0.1102],
  [0.0921,0.0975],[0.0955,0.0891],[0.102,0.1018],[0.0987,0.1355],[0.1348,0.1568]
];

// tick values
const energyXTicks = [-814.2, -814.0, -813.8, -813.6];
const energyYTicks = [-814.4, -814.2, -814.0, -813.8, -813.6];
const forceTicks = [-20, -10, 0, 10, 20];
const stressXTicks = [-0.4, -0.2, 0.0];
const stressTrainYTicks = [-0.4, -0.3, -0.2, -0.1, 0.0, 0.1, 0.2];
const stressTestYTicks = [-0.4, -0.3, -0.2, -0.1, 0.0, 0.1];

// titles / labels
const titles = ["Energy / atom (training)", "Force (training)", "Stress (training)",
                "Energy / atom (testing)", "Force (testing)", "Stress (testing)"];
const xLabels = ["Target value (eV)", "Target value (eV/Å)", "Target value (eV/Å^3)"];
const yLabels = ["MTP fit (eV)", "MTP fit (eV/Å)", "MTP fit (eV/Å^3)"];

// ---------------- LAYOUT / STYLE ----------------
const colors = ["#003f5c", "#bc5090", "#ffa600"];
const colLeft = [113.3, 512.3, 912.3];
const rowTop = [44.3, 390.7];
const AW = 295, AH = 247.7;
const yLabelOffset = [-83, -56, -62];
const textColor = "#000";

const panels = [
  {data: energyTrain, col: 0, row: 0, xDomain: [-814.366, -813.44], yDomain: [-814.411, -813.415], xTicks: energyXTicks, yTicks: energyYTicks, fmt: ".1f"},
  {data: forceTrain,  col: 1, row: 0, xDomain: [-25.66, 20.72], yDomain: [-28.9, 23.4], xTicks: forceTicks, yTicks: forceTicks, fmt: "d"},
  {data: stressTrain, col: 2, row: 0, xDomain: [-0.424, 0.164], yDomain: [-0.4133, 0.2085], xTicks: stressXTicks, yTicks: stressTrainYTicks, fmt: ".1f"},
  {data: energyTest,  col: 0, row: 1, xDomain: [-814.35, -813.45], yDomain: [-814.402, -813.408], xTicks: energyXTicks, yTicks: energyYTicks, fmt: ".1f"},
  {data: forceTest,   col: 1, row: 1, xDomain: [-20.96, 19.68], yDomain: [-23.9, 22.75], xTicks: forceTicks, yTicks: forceTicks, fmt: "d"},
  {data: stressTest,  col: 2, row: 1, xDomain: [-0.425, 0.1535], yDomain: [-0.427, 0.199], xTicks: stressXTicks, yTicks: stressTestYTicks, fmt: ".1f"}
];

const svg = d3.select("#chart");
svg.append("rect").attr("width", 1198).attr("height", 686).attr("fill", "#f8f8f8");
svg.append("rect").attr("x", 11).attr("y", 11).attr("width", 1187).attr("height", 675).attr("fill", "#ffffff");

const defs = svg.append("defs");

panels.forEach((p, i) => {
  const left = colLeft[p.col], top = rowTop[p.row];
  const x = d3.scaleLinear().domain(p.xDomain).range([left, left + AW]);
  const y = d3.scaleLinear().domain(p.yDomain).range([top + AH, top]);
  const fmt = d3.format(p.fmt);
  const inX = p.xTicks.filter(v => v >= p.xDomain[0] && v <= p.xDomain[1]);
  const inY = p.yTicks.filter(v => v >= p.yDomain[0] && v <= p.yDomain[1]);

  defs.append("clipPath").attr("id", "clip" + i)
    .append("rect").attr("x", left).attr("y", top).attr("width", AW).attr("height", AH);

  const g = svg.append("g");
  const plot = g.append("g").attr("clip-path", `url(#clip${i})`);

  plot.selectAll("circle").data(p.data).join("circle")
    .attr("cx", d => x(d[0])).attr("cy", d => y(d[1]))
    .attr("r", 2.5).attr("fill", colors[p.col]);

  plot.append("line")
    .attr("x1", x(p.xDomain[0])).attr("y1", y(p.xDomain[0]))
    .attr("x2", x(p.xDomain[1])).attr("y2", y(p.xDomain[1]))
    .attr("stroke", "#000").attr("stroke-width", 1.1)
    .attr("stroke-dasharray", "1.1 2.2");

  g.append("rect").attr("x", left).attr("y", top).attr("width", AW).attr("height", AH)
    .attr("fill", "none").attr("stroke", "#111").attr("stroke-width", 1.1);

  const xAxis = g.append("g").attr("transform", `translate(0,${top + AH})`)
    .call(d3.axisBottom(x).tickValues(inX).tickFormat(fmt).tickSize(5).tickPadding(6).tickSizeOuter(0));
  const yAxis = g.append("g").attr("transform", `translate(${left},0)`)
    .call(d3.axisLeft(y).tickValues(inY).tickFormat(fmt).tickSize(5).tickPadding(6).tickSizeOuter(0));
  [xAxis, yAxis].forEach(a => {
    a.select(".domain").remove();
    a.selectAll(".tick line").attr("stroke", "#111").attr("stroke-width", 1.1);
    a.selectAll(".tick text").attr("fill", textColor).attr("font-size", 16.6)
      .attr("font-family", "DejaVu Sans");
  });

  g.append("text").attr("x", left + AW / 2).attr("y", top - 9.3)
    .attr("text-anchor", "middle").attr("font-size", 23).attr("fill", textColor)
    .text(titles[i]);

  g.append("text").attr("x", left + AW / 2).attr("y", top + AH + 41.5)
    .attr("text-anchor", "middle").attr("font-size", 17).attr("fill", textColor)
    .text(xLabels[p.col]);

  g.append("text")
    .attr("transform", `translate(${left + yLabelOffset[p.col]},${top + AH / 2}) rotate(-90)`)
    .attr("text-anchor", "middle").attr("font-size", 17).attr("fill", textColor)
    .text(yLabels[p.col]);
});
</script>
</body>
</html>
